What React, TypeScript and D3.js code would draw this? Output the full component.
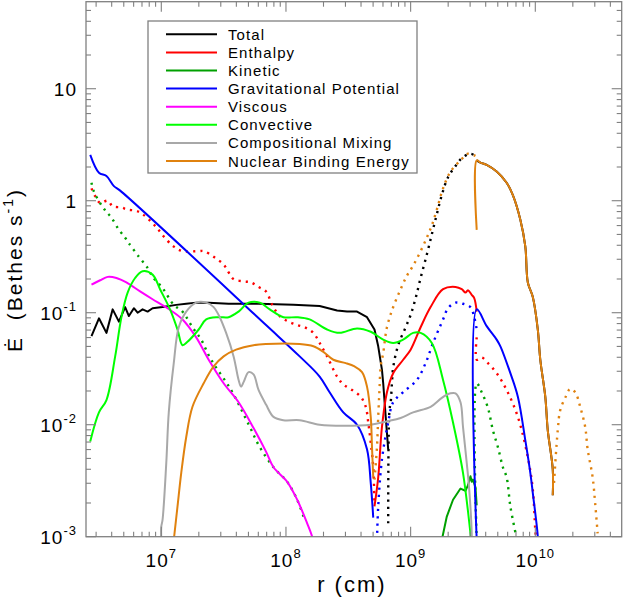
import React from 'react';
import * as d3 from 'd3';

type P = [number, number]; // [log10 r (cm), log10 Edot (Bethes/s)]

const seriesNames = ['Total', 'Enthalpy', 'Kinetic', 'Gravitational Potential', 'Viscous', 'Convective', 'Compositional Mixing', 'Nuclear Binding Energy'];
const seriesColors = ['#000000', '#ff0000', '#00a000', '#0000ff', '#ff00ff', '#00ff00', '#a8a8a8', '#e0820f'];

const totalPos: P[] = [[6.44,-1.21],[6.50,-1.05],[6.56,-1.18],[6.61,-0.97],[6.66,-1.08],[6.71,-0.95],[6.74,-1.03],[6.78,-0.96],[6.81,-1.00],[6.85,-0.97],[6.89,-0.99],[6.93,-0.96],[7.01,-0.95],[7.12,-0.93],[7.20,-0.92],[7.28,-0.91],[7.38,-0.91],[7.54,-0.92],[7.78,-0.92],[8.06,-0.93],[8.27,-0.94],[8.41,-0.98],[8.49,-0.99],[8.57,-0.99],[8.65,-1.04],[8.71,-1.15],[8.74,-1.30],[8.77,-1.51],[8.78,-1.63],[8.80,-1.93],[8.82,-2.22]];
const totalNeg: P[] = [[8.82,-2.88],[8.83,-1.87],[8.84,-1.80],[8.85,-1.63],[8.86,-1.49],[8.90,-1.29],[8.96,-1.13],[9.00,-1.02],[9.04,-0.87],[9.08,-0.69],[9.13,-0.48],[9.17,-0.30],[9.21,-0.12],[9.25,0.05],[9.30,0.21],[9.36,0.31],[9.41,0.38],[9.48,0.42],[9.52,0.40]];
const totalPosRight: P[] = [[9.53,0.36],[9.56,0.34],[9.61,0.32],[9.69,0.26],[9.77,0.16],[9.82,0.05],[9.88,-0.17],[9.92,-0.41],[9.94,-0.73],[9.98,-0.86],[10.02,-1.15],[10.04,-1.42],[10.08,-1.75],[10.10,-2.05],[10.14,-2.40],[10.14,-2.63]];

const enthalpyPos: P[] = [[8.71,-2.73],[8.74,-2.47],[8.77,-2.02],[8.81,-1.71],[8.86,-1.54],[8.94,-1.42],[9.00,-1.33],[9.08,-1.13],[9.16,-0.95],[9.26,-0.79],[9.36,-0.77],[9.41,-0.79],[9.44,-0.82],[9.46,-0.80],[9.49,-0.84],[9.51,-0.87],[9.53,-0.99]];
const enthalpyNegLeft: P[] = [[6.44,0.11],[6.47,0.04],[6.51,-0.02],[6.57,0.00],[6.61,-0.05],[6.68,-0.06],[6.73,-0.08],[6.80,-0.09],[6.85,-0.12],[6.92,-0.19],[6.97,-0.25],[7.02,-0.32],[7.10,-0.41],[7.17,-0.45],[7.30,-0.45],[7.34,-0.45],[7.42,-0.50],[7.50,-0.57],[7.54,-0.64],[7.58,-0.70],[7.66,-0.72],[7.72,-0.73],[7.78,-0.77],[7.84,-0.81],[7.89,-0.93],[7.95,-1.03],[8.02,-1.08],[8.09,-1.11],[8.15,-1.13],[8.22,-1.18],[8.27,-1.27],[8.33,-1.39],[8.41,-1.57],[8.46,-1.64],[8.53,-1.69],[8.60,-1.75],[8.64,-1.84],[8.66,-1.98],[8.68,-2.16],[8.70,-2.38],[8.71,-2.72]];
const enthalpyNegRight: P[] = [[9.53,-1.22],[9.53,-1.42],[9.57,-1.40],[9.62,-1.45],[9.69,-1.54],[9.77,-1.69],[9.86,-1.93],[9.94,-2.29],[9.98,-2.58],[10.00,-2.94],[10.01,-3.07]];

const kineticPos: P[] = [[9.25,-3.03],[9.29,-2.82],[9.34,-2.67],[9.40,-2.57],[9.44,-2.59],[9.46,-2.54],[9.48,-2.46],[9.49,-2.51],[9.50,-2.49],[9.52,-2.56],[9.53,-2.72]];
const kineticNegLeft: P[] = [[6.44,0.16],[6.46,0.08],[6.52,-0.04],[6.56,-0.10],[6.60,-0.15],[6.66,-0.26],[6.71,-0.33],[6.74,-0.38],[6.82,-0.50],[6.89,-0.60],[6.93,-0.68],[7.01,-0.78],[7.10,-0.93],[7.17,-0.99],[7.25,-1.13],[7.32,-1.24],[7.38,-1.38],[7.44,-1.49],[7.52,-1.62],[7.58,-1.73],[7.71,-2.02],[7.79,-2.20],[7.90,-2.38],[8.01,-2.51],[8.09,-2.67],[8.15,-2.85]];
const kineticNegRight: P[] = [[9.53,-3.03],[9.53,-1.63],[9.57,-1.71],[9.62,-1.85],[9.66,-2.05],[9.70,-2.20],[9.74,-2.38],[9.77,-2.47],[9.80,-2.73],[9.84,-2.96]];

const gravPosLeft: P[] = [[6.43,0.41],[6.50,0.25],[6.56,0.22],[6.62,0.13],[6.67,0.09],[7.84,-1.11],[8.11,-1.39],[8.27,-1.57],[8.35,-1.71],[8.46,-1.89],[8.57,-2.00],[8.65,-2.22],[8.68,-2.52],[8.70,-2.83]];
const gravPosRight: P[] = [[9.53,-3.03],[9.53,-0.97],[9.61,-1.12],[9.69,-1.24],[9.72,-1.30],[9.80,-1.54],[9.86,-1.75],[9.92,-2.14],[9.96,-2.43],[9.98,-2.61],[10.02,-3.00],[10.02,-3.07]];
const gravNeg: P[] = [[8.73,-3.03],[8.74,-2.73],[8.77,-2.31],[8.82,-1.98],[8.86,-1.80],[8.94,-1.71],[9.05,-1.60],[9.12,-1.45],[9.18,-1.27],[9.26,-1.06],[9.30,-0.96],[9.36,-0.91],[9.42,-0.92],[9.48,-0.95],[9.51,-1.04],[9.53,-1.15]];

const viscousPos: P[] = [[6.44,-0.75],[6.51,-0.71],[6.57,-0.68],[6.64,-0.69],[6.72,-0.73],[6.83,-0.81],[6.93,-0.88],[7.05,-0.96],[7.17,-1.06],[7.28,-1.22],[7.38,-1.42],[7.50,-1.63],[7.62,-1.80],[7.74,-2.03],[7.84,-2.24],[7.90,-2.38],[8.01,-2.51],[8.09,-2.67],[8.17,-2.88],[8.21,-3.00],[8.22,-3.07]];

const convectivePos: P[] = [[6.43,-2.15],[6.50,-1.89],[6.56,-1.78],[6.63,-1.39],[6.68,-1.04],[6.73,-0.82],[6.79,-0.69],[6.85,-0.63],[6.93,-0.66],[6.99,-0.79],[7.07,-0.97],[7.13,-1.15],[7.17,-1.29],[7.21,-1.26],[7.30,-1.15],[7.36,-1.06],[7.46,-1.04],[7.54,-1.04],[7.62,-0.99],[7.70,-0.91],[7.79,-0.91],[7.87,-0.97],[7.98,-1.04],[8.09,-1.04],[8.19,-1.06],[8.33,-1.15],[8.43,-1.18],[8.57,-1.14],[8.68,-1.17],[8.78,-1.24],[8.86,-1.27],[8.94,-1.24],[9.02,-1.18],[9.08,-1.18],[9.17,-1.27],[9.26,-1.60],[9.34,-1.98],[9.42,-2.43],[9.48,-2.97],[9.49,-3.07]];

const mixingPos: P[] = [[7.00,-3.03],[7.00,-2.91],[7.01,-2.85],[7.04,-2.34],[7.06,-1.89],[7.10,-1.45],[7.14,-1.13],[7.20,-0.99],[7.28,-0.91],[7.36,-0.91],[7.42,-0.95],[7.46,-1.02],[7.52,-1.18],[7.58,-1.39],[7.62,-1.60],[7.64,-1.66],[7.66,-1.62],[7.70,-1.53],[7.74,-1.55],[7.78,-1.69],[7.84,-1.82],[7.90,-1.93],[7.98,-1.96],[8.11,-1.96],[8.27,-2.00],[8.46,-2.01],[8.68,-2.00],[8.81,-1.97],[8.92,-1.94],[9.02,-1.89],[9.16,-1.84],[9.25,-1.76],[9.32,-1.72],[9.36,-1.72],[9.40,-1.80],[9.42,-2.02],[9.45,-2.34],[9.47,-2.58],[9.49,-2.97],[9.49,-3.07]];

const nuclearPosLeft: P[] = [[7.10,-3.03],[7.13,-2.73],[7.16,-2.43],[7.20,-2.11],[7.25,-1.84],[7.34,-1.63],[7.42,-1.48],[7.50,-1.39],[7.60,-1.33],[7.74,-1.29],[7.84,-1.28],[8.11,-1.28],[8.22,-1.30],[8.30,-1.35],[8.38,-1.42],[8.48,-1.45],[8.55,-1.48],[8.61,-1.53],[8.65,-1.66],[8.68,-1.93],[8.69,-2.20],[8.70,-2.47]];
const nuclearNegLeft: P[] = [[8.71,-2.49],[8.73,-2.20],[8.74,-1.93],[8.75,-1.69],[8.76,-1.48],[8.78,-1.36],[8.81,-1.13],[8.86,-0.95],[8.92,-0.79],[8.97,-0.67],[9.02,-0.58],[9.08,-0.45],[9.13,-0.33],[9.17,-0.22],[9.21,-0.08],[9.26,0.11],[9.32,0.26],[9.40,0.36],[9.46,0.42],[9.52,0.40]];
const nuclearPosRight: P[] = [[9.53,-0.26],[9.53,0.36],[9.56,0.34],[9.61,0.32],[9.69,0.26],[9.77,0.16],[9.82,0.05],[9.88,-0.17],[9.92,-0.41],[9.94,-0.73],[9.98,-0.86],[10.02,-1.15],[10.04,-1.42],[10.08,-1.75],[10.10,-2.05],[10.14,-2.40],[10.14,-2.63]];
const nuclearNegRight: P[] = [[10.15,-2.52],[10.18,-2.05],[10.20,-1.87],[10.24,-1.76],[10.28,-1.68],[10.32,-1.71],[10.36,-1.84],[10.40,-2.02],[10.42,-2.22],[10.46,-2.47],[10.48,-2.70],[10.50,-2.97]];

const xTickExps = [7, 8, 9, 10];
const yTickExps = [-3, -2, -1, 0, 1];

const curves: { data: P[]; s: number; dotted: boolean; sharp?: boolean }[] = [
  { data: totalPos, s: 0, dotted: false, sharp: true },
  { data: totalNeg, s: 0, dotted: true },
  { data: totalPosRight, s: 0, dotted: false },
  { data: enthalpyPos, s: 1, dotted: false },
  { data: enthalpyNegLeft, s: 1, dotted: true },
  { data: enthalpyNegRight, s: 1, dotted: true },
  { data: kineticPos, s: 2, dotted: false, sharp: true },
  { data: kineticNegLeft, s: 2, dotted: true },
  { data: kineticNegRight, s: 2, dotted: true },
  { data: gravPosLeft, s: 3, dotted: false },
  { data: gravPosRight, s: 3, dotted: false },
  { data: gravNeg, s: 3, dotted: true },
  { data: viscousPos, s: 4, dotted: false },
  { data: convectivePos, s: 5, dotted: false },
  { data: mixingPos, s: 6, dotted: false },
  { data: nuclearPosLeft, s: 7, dotted: false },
  { data: nuclearNegLeft, s: 7, dotted: true },
  { data: nuclearPosRight, s: 7, dotted: false },
  { data: nuclearNegRight, s: 7, dotted: true },
];

export default function App() {
  const W = 623, H = 599;
  const L = 86, R = 621.7, T = 1.7, B = 536.7;
  const x = d3.scaleLog().domain([10 ** 6.396, 10 ** 10.693]).range([L, R]);
  const y = d3.scaleLog().domain([1e-3, 10 ** 1.777]).range([B, T]);
  const smooth = d3.line<P>().x(d => x(10 ** d[0])).y(d => y(10 ** d[1])).curve(d3.curveCatmullRom.alpha(0.5));
  const sharp = d3.line<P>().x(d => x(10 ** d[0])).y(d => y(10 ** d[1]));
  const axisColor = '#808080';
  const font = '"Liberation Sans", Arial, sans-serif';

  const xMinor: number[] = [];
  for (let e = 6; e <= 10; e++) for (let m = 2; m <= 9; m++) {
    const v = m * 10 ** e;
    if (v > x.domain()[0] && v < x.domain()[1]) xMinor.push(v);
  }
  const yMinor: number[] = [];
  for (let e = -3; e <= 1; e++) for (let m = 2; m <= 9; m++) {
    const v = m * 10 ** e;
    if (v > y.domain()[0] && v < y.domain()[1]) yMinor.push(v);
  }
  const maj = 10, mn = 5;

  return (
    <svg width={W} height={H} style={{ position: 'absolute', left: 0, top: 0, background: '#fff' }} fontFamily={font}>
      <defs>
        <clipPath id="plot"><rect x={L} y={T} width={R - L} height={B - T} /></clipPath>
      </defs>
      <rect x={0} y={0} width={W} height={H} fill="#fff" />
      <g clipPath="url(#plot)" fill="none" strokeLinejoin="round">
        {curves.map((c, i) => (
          <path key={i} d={(c.sharp ? sharp : smooth)(c.data) || ''} stroke={seriesColors[c.s]}
            strokeWidth={c.dotted ? 2.4 : 2}
            strokeDasharray={c.dotted ? '2.2 5' : undefined} />
        ))}
      </g>
      <rect x={L} y={T} width={R - L} height={B - T} fill="none" stroke={axisColor} strokeWidth={1.3} />
      <g stroke={axisColor} strokeWidth={1.1}>
        {xTickExps.map(e => {
          const px = x(10 ** e);
          return <g key={'xM' + e}><line x1={px} x2={px} y1={B} y2={B - maj} /><line x1={px} x2={px} y1={T} y2={T + maj} /></g>;
        })}
        {xMinor.map((v, i) => {
          const px = x(v);
          return <g key={'xm' + i}><line x1={px} x2={px} y1={B} y2={B - mn} /><line x1={px} x2={px} y1={T} y2={T + mn} /></g>;
        })}
        {yTickExps.map(e => {
          const py = y(10 ** e);
          return <g key={'yM' + e}><line x1={L} x2={L + maj} y1={py} y2={py} /><line x1={R} x2={R - maj} y1={py} y2={py} /></g>;
        })}
        {yMinor.map((v, i) => {
          const py = y(v);
          return <g key={'ym' + i}><line x1={L} x2={L + mn} y1={py} y2={py} /><line x1={R} x2={R - mn} y1={py} y2={py} /></g>;
        })}
      </g>
      {xTickExps.map(e => (
        <text key={'xl' + e} x={x(10 ** e)} y={B + 30} textAnchor="middle" fontSize={19} letterSpacing={1} fill="#000">
          10<tspan dy={-9} fontSize={13}>{String(e)}</tspan>
        </text>
      ))}
      {yTickExps.map(e => (
        <text key={'yl' + e} x={77} y={y(10 ** e) + 7} textAnchor="end" fontSize={19} letterSpacing={1} fill="#000">
          {e === 0 ? '1' : e === 1 ? '10' : <>10<tspan dy={-9} fontSize={13}>{'-' + String(-e)}</tspan></>}
        </text>
      ))}
      <text x={(L + R) / 2 - 2} y={592} textAnchor="middle" fontSize={22} letterSpacing={2} fill="#000" style={{ whiteSpace: 'pre' }}>r (cm)</text>
      <text transform="translate(22,270) rotate(-90)" textAnchor="middle" fontSize={21} letterSpacing={2} fill="#000" style={{ whiteSpace: 'pre' }}>
        {'Ė  (Bethes s'}<tspan dy={-9} fontSize={14}>-1</tspan><tspan dy={9}>)</tspan>
      </text>
      <rect x={148} y={21} width={269} height={152} fill="#fff" stroke={axisColor} strokeWidth={1.3} />
      {seriesNames.map((n, i) => {
        const ry = 34.3 + i * 18.1;
        return (
          <g key={n}>
            <line x1={166} x2={217} y1={ry} y2={ry} stroke={seriesColors[i]} strokeWidth={2} />
            <text x={228} y={ry + 5.5} fontSize={15} letterSpacing={1.1} fill="#000">{n}</text>
          </g>
        );
      })}
    </svg>
  );
}
